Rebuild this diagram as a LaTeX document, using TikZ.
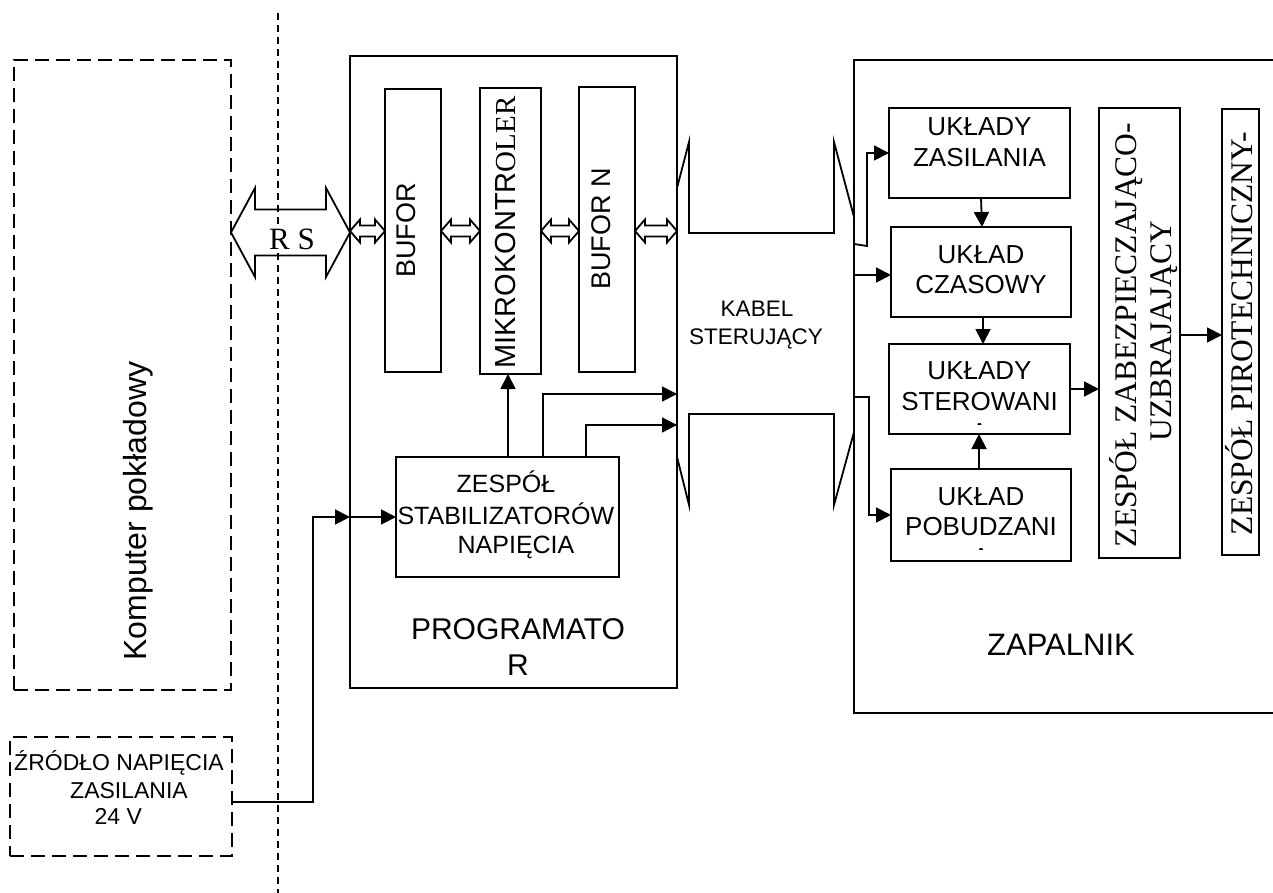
\documentclass[tikz,border=0pt]{standalone}
\usepackage{fontspec}
\setmainfont{Liberation Serif}
\newfontfamily\arial{Liberation Sans}
\usetikzlibrary{arrows.meta,calc}
\newcommand\fs[1]{\fontsize{#1}{#1}\selectfont}
\newcommand\hollowarr[5]{%
  \draw[ln] (#1) -- ($(#1)+(#3,-#4)$) -- ($(#1)+(#3,-#5)$) -- ($(#2)+(-#3,-#5)$) -- ($(#2)+(-#3,-#4)$) -- (#2)
    -- ($(#2)+(-#3,#4)$) -- ($(#2)+(-#3,#5)$) -- ($(#1)+(#3,#5)$) -- ($(#1)+(#3,#4)$) -- cycle;}
\tikzset{
  box/.style={draw, line width=1.8pt, inner sep=0pt, outer sep=0pt, anchor=north west},
  dbox/.style={box, dash pattern=on 14pt off 7pt},
  lbl/.style={inner sep=0pt, outer sep=0pt, anchor=base, font=\arial\fs{26}},
  serif/.style={inner sep=0pt, outer sep=0pt, anchor=base, font=\rmfamily\fs{31.5}},
  ln/.style={line width=1.8pt},
  arr/.style={line width=1.8pt, -{Triangle[length=15pt,width=15pt]}},
  divider/.style={line width=1.4pt, dash pattern=on 7pt off 5pt},
}
\begin{document}
\begin{tikzpicture}[x=1pt,y=-1pt]
\useasboundingbox (0,0) rectangle (1273,893);
\clip (0,0) rectangle (1273,893);
\fill[white] (0,0) rectangle (1273,893);

% divider
\coordinate (divtop) at (278,13);
\coordinate (divbot) at (278,893);
\draw[divider] (divtop) -- (divbot);

% left boxes
\node[dbox, minimum width=217pt, minimum height=630pt] (komp) at (14,60) {};
\node[lbl, rotate=90, font=\arial\fs{32}] (tkomp) at (146,511) {Komputer pokładowy};
\node[dbox, minimum width=222pt, minimum height=119pt] (src) at (10,737) {};
\node[lbl, font=\arial\fs{23}] (tsrc1) at (119,770.5) {ŹRÓDŁO NAPIĘCIA};
\node[lbl, font=\arial\fs{23}] (tsrc2) at (129,798) {ZASILANIA};
\node[lbl, font=\arial\fs{23}] (tsrc3) at (118.3,824) {24 V};

% programator
\node[box, minimum width=327pt, minimum height=632pt] (prog) at (350,56) {};
\node[box, minimum width=56pt, minimum height=283pt] (bufor) at (385,89) {};
\node[box, minimum width=61pt, minimum height=286pt] (mikro) at (480,88) {};
\node[box, minimum width=56pt, minimum height=285pt] (bufn) at (579,87) {};
\node[box, minimum width=223pt, minimum height=120pt] (stab) at (396,457) {};
\node[lbl, rotate=90, font=\arial\fs{27}] (tbufor) at (415,230.5) {BUFOR};
\node[lbl, rotate=90, font=\arial\fs{29}] (tmikro) at (515,232.5) {MIKROKONTR{\rmfamily OLER}};
\node[lbl, rotate=90, font=\arial\fs{27}] (tbufn) at (610,229) {BUFOR N};
\node[lbl, font=\arial\fs{25}] (tstab1) at (506,492) {ZESPÓŁ};
\begin{scope}
  \clip (stab.north west) rectangle (stab.south east);
  \node[lbl, anchor=base west, font=\arial\fs{25}] (tstab2) at (397.5,524) {STABILIZATORÓW};
\end{scope}
\node[lbl, font=\arial\fs{25}] (tstab3) at (516,553) {NAPIĘCIA};
\node[lbl, font=\arial\fs{30}] (tprog1) at (518,639) {PROGRAMATO};
\node[lbl, font=\arial\fs{30}] (tprog2) at (518,675) {R};

% RS and bus arrows
\coordinate (rsL) at (komp.east |- bufor.west);
\coordinate (rsR) at (prog.west |- bufor.west);
\hollowarr{$(rsL)+(0,2)$}{$(rsR)+(0,2)$}{24}{44.5}{23}
\node[serif, fill=white, font=\rmfamily\fs{31}] (trs) at (292,249) {R S};
\coordinate (b0) at (prog.west |- mikro.west);
\coordinate (b1) at (bufor.west |- mikro.west);
\coordinate (b2) at (bufor.east |- mikro.west);
\coordinate (b3) at (mikro.west);
\coordinate (b4) at (mikro.east);
\coordinate (b5) at (bufn.west |- mikro.west);
\coordinate (b6) at (bufn.east |- mikro.west);
\coordinate (b7) at (prog.east |- mikro.west);
\hollowarr{b0}{b1}{10}{11.5}{5.5}
\hollowarr{b2}{b3}{10}{11.5}{5.5}
\hollowarr{b4}{b5}{10}{11.5}{5.5}
\hollowarr{b6}{b7}{10}{11.5}{5.5}

% stabilizator connections
\draw[arr] ($(stab.north west)+(112,0)$) -- ($(mikro.south west)+(28,0)$);
\draw[arr] ($(stab.north west)+(147,0)$) |- ($(prog.north east)+(0,338)$);
\draw[arr] ($(stab.north west)+(190,0)$) |- ($(prog.north east)+(0,369)$);
\coordinate (pin) at ($(prog.west |- stab.west)+(-37,0)$);
\draw[arr] ($(src.east)+(0,5.5)$) -| (pin) -- (prog.west |- stab.west);
\draw[arr] (prog.west |- stab.west) -- (stab.west);

% cable
\coordinate (k1) at (677,188);
\coordinate (k2) at (689,142);
\coordinate (k3) at (689,233);
\coordinate (k4) at (834,233);
\coordinate (k5) at (834,142);
\coordinate (k6) at (854,217);
\draw[ln, line join=miter] (k1) -- (k2) -- (k3) -- (k4) -- (k5) -- (k6);
\coordinate (m1) at (677,457);
\coordinate (m2) at (689,505);
\coordinate (m3) at (689,414);
\coordinate (m4) at (834,414);
\coordinate (m5) at (834,505);
\coordinate (m6) at (854,432);
\draw[ln, line join=miter] (m1) -- (m2) -- (m3) -- (m4) -- (m5) -- (m6);
\node[lbl, font=\arial\fs{22.5}] (tkab1) at (757,316.7) {KABEL};
\node[lbl, font=\arial\fs{22.5}] (tkab2) at (756,344) {STERUJĄCY};

% zapalnik
\node[box, minimum width=440pt, minimum height=653pt] (zap) at (854,60) {};
\node[lbl, font=\arial\fs{31}] (tzap) at (1061,655) {ZAPALNIK};
\node[box, minimum width=181pt, minimum height=90pt] (zas) at (889,108) {};
\node[box, minimum width=180pt, minimum height=90pt] (czas) at (891,227) {};
\node[box, minimum width=181pt, minimum height=90pt] (ster) at (889,344) {};
\node[box, minimum width=180pt, minimum height=92pt] (pob) at (891,469) {};
\node[box, minimum width=81pt, minimum height=450pt] (zab) at (1099,108) {};
\node[box, minimum width=37pt, minimum height=446pt] (piro) at (1222,109) {};

\node[lbl] (tzas1) at (979.5,136) {UKŁADY};
\node[lbl] (tzas2) at (979.5,167) {ZASILANIA};
\node[lbl] (tczas1) at (981,263.5) {UKŁAD};
\node[lbl] (tczas2) at (981,293.5) {CZASOWY};
\node[lbl] (tster1) at (979.5,379) {UKŁADY};
\node[lbl] (tster2) at (979.5,410) {STEROWANI};
\begin{scope}
  \clip (889,344) rectangle (1070,424.5);
  \node[lbl] (tster3) at (979.5,441) {A};
\end{scope}
\node[lbl] (tpob1) at (981,505) {UKŁAD};
\node[lbl] (tpob2) at (981,535) {POBUDZANI};
\begin{scope}
  \clip (891,469) rectangle (1071,549.5);
  \node[lbl] (tpob3) at (981,566) {A};
\end{scope}
\node[serif, rotate=90] (tzab1) at (1136,335) {ZESPÓŁ ZABEZPIECZAJĄCO-};
\node[serif, rotate=90] (tzab2) at (1171,331) {UZBRAJAJĄCY};
\node[serif, rotate=90] (tpiro) at (1252,333.5) {ZESPÓŁ PIROTECHNICZNY-};

% zapalnik connections
\coordinate (z1) at (854,244);
\coordinate (z2) at (867,246);
\draw[arr] (z1) -- (z2) |- (zas.west);
\coordinate (z3) at (zap.west |- czas.west);
\draw[arr] ($(z3)+(0,3)$) -- ($(czas.west)+(0,3)$);
\coordinate (z4) at (854,397);
\coordinate (z5) at (869,397);
\draw[arr] (z4) -- (z5) |- (pob.west);
\draw[arr] ($(zas.south west)+(92,0)$) -- ($(czas.north west)+(91,0)$);
\draw[arr] ($(czas.south west)+(92,0)$) -- ($(ster.north west)+(94,0)$);
\draw[arr] ($(pob.north west)+(88,0)$) -- ($(ster.south west)+(90,0)$);
\draw[arr] (ster.east) -- (zab.west |- ster.east);
\draw[arr] ($(zab.east)+(0,2)$) -- ($(piro.west |- zab.east)+(0,2)$);
\end{tikzpicture}
\end{document}
